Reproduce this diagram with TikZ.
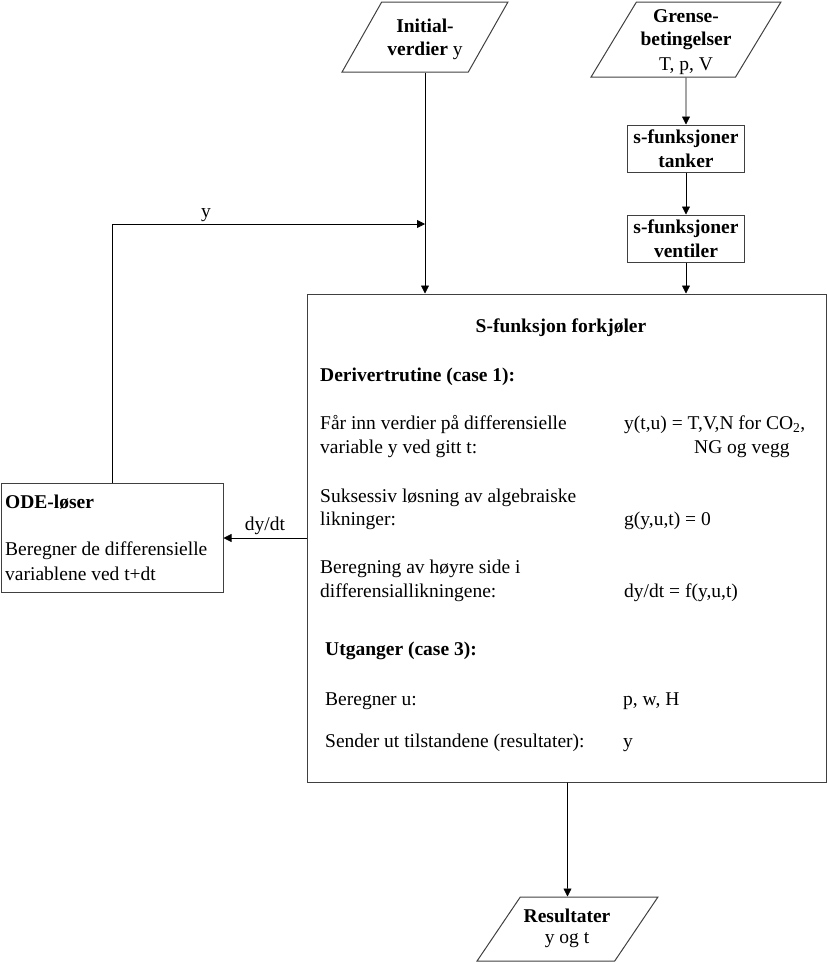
\documentclass[tikz,border=0pt]{standalone}
\usepackage{fontspec}
\setmainfont{Liberation Serif}
\usetikzlibrary{shapes.geometric,arrows.meta}

\begin{document}
\begin{tikzpicture}[
        x=1pt, y=-1pt,
        every node/.style={font=\fontsize{19.5}{23.5}\selectfont},
        io/.style={trapezium, trapezium left angle=63.5, trapezium right angle=116.5,
            trapezium stretches=true, draw=black!75, line width=1pt, inner sep=0pt},
        sfun/.style={rectangle, draw=black!75, line width=1pt, inner sep=0pt, align=center,
            minimum width=117pt, minimum height=47pt, font=\fontsize{19.5}{23.5}\selectfont\bfseries},
        block/.style={rectangle, draw=black!75, line width=1pt, inner sep=0pt},
        txt/.style={anchor=base west, inner sep=0pt},
        ctxt/.style={anchor=base, inner sep=0pt},
        head/.style={txt, font=\fontsize{19.5}{23.5}\selectfont\bfseries},
        flow/.style={draw=black, line width=0.8pt, -{Triangle[length=8pt, width=8pt]}}
    ]
    \useasboundingbox (0,0) rectangle (828,962);

    % inputs
    \node[io, minimum width=166pt, minimum height=70pt] (init) at (425,37) {\phantom{x}};
    \node[ctxt] (init1) at (425,32) {\textbf{Initial-}};
    \node[ctxt] (init2) at (425,55) {\textbf{verdier} y};
    \node[io, minimum width=190pt, minimum height=75pt] (grense) at (686,39.5) {\phantom{x}};
    \node[ctxt, font=\fontsize{19.5}{23.5}\selectfont\bfseries] (grense1) at (686,22) {Grense-};
    \node[ctxt, font=\fontsize{19.5}{23.5}\selectfont\bfseries] (grense2) at (686,45) {betingelser};
    \node[ctxt] (grense3) at (686,70) {T, p, V};
    \node[sfun] (tanker) at (686,148.5) {s-funksjoner\\tanker};
    \node[sfun] (ventiler) at (686,238.5) {s-funksjoner\\ventiler};

    % main blocks
    \node[block, minimum width=519pt, minimum height=488pt] (fork) at (566.5,538) {};
    \node[block, minimum width=222pt, minimum height=109pt] (ode) at (112,538) {};
    \node[io, minimum width=181pt, minimum height=64pt] (res) at (567.5,929) {\phantom{x}};
    \node[ctxt, font=\fontsize{19.5}{23.5}\selectfont\bfseries] (res1) at (567,922) {Resultater};
    \node[ctxt] (res2) at (567,943) {y og t};
    \coordinate (ytop) at (112,224);

    % S-funksjon text
    \node[ctxt, font=\fontsize{19.5}{23.5}\selectfont\bfseries] (ftitle) at (561,332) {S-funksjon forkjøler};
    \node[head] (deriv) at (320,381) {Derivertrutine (case 1):};
    \node[txt] (l1a) at (320,429) {Får inn verdier på differensielle};
    \node[txt] (l1b) at (320,453) {variable y ved gitt t:};
    \node[txt] (r1a) at (624,429) {y(t,u) = T,V,N for CO\textsubscript{2},};
    \node[txt] (r1b) at (694,453) {NG og vegg};
    \node[txt] (l2a) at (320,502) {Suksessiv løsning av algebraiske};
    \node[txt] (l2b) at (320,525) {likninger:};
    \node[txt] (r2) at (624,525) {g(y,u,t) = 0};
    \node[txt] (l3a) at (320,573) {Beregning av høyre side i};
    \node[txt] (l3b) at (320,597) {differensiallikningene:};
    \node[txt] (r3) at (624,597) {dy/dt = f(y,u,t)};
    \node[head] (utg) at (325,655) {Utganger (case 3):};
    \node[txt] (l4) at (325,705) {Beregner u:};
    \node[txt] (r4) at (623,705) {p, w, H};
    \node[txt] (l5) at (325,747) {Sender ut tilstandene (resultater):};
    \node[txt] (r5) at (623,747) {y};

    % ODE text
    \node[head] (odetitle) at (5,508) {ODE-løser};
    \node[txt] (ode1) at (5,555) {Beregner de differensielle};
    \node[txt] (ode2) at (5,580) {variablene ved t+dt};

    % connectors
    \draw[flow] (init.south) -- (init.south |- fork.north);
    \draw[flow] (grense.south) -- (tanker.north);
    \draw[flow] (tanker) -- (ventiler);
    \draw[flow] (ventiler) -- (ventiler |- fork.north);
    \draw[flow] (fork.west) -- node[above, inner sep=3pt] (dydt) {dy/dt} (fork.west -| ode.east);
    \draw[flow] (ode.north) |- node[pos=0.65, above, inner sep=2pt] (ylab) {y} (init.south |- ytop);
    \draw[flow] (fork.south -| res) -- (res.north);
\end{tikzpicture}
\end{document}
